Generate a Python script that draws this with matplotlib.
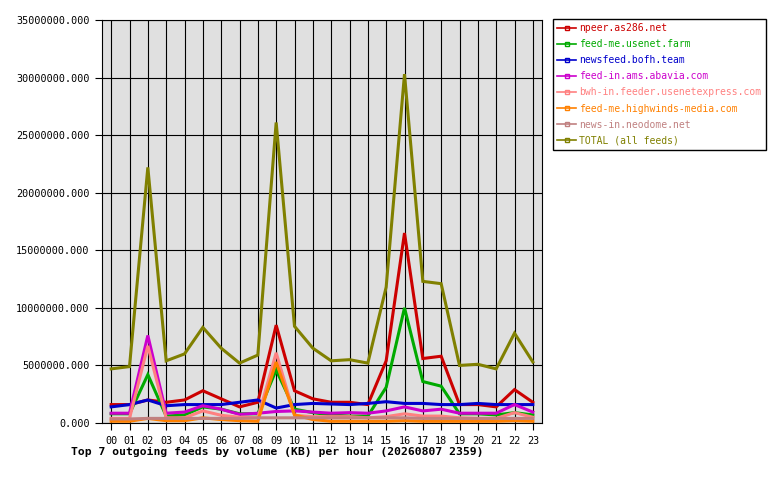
import matplotlib
matplotlib.use("Agg")
import matplotlib.pyplot as plt
from matplotlib.lines import Line2D
from matplotlib.ticker import FuncFormatter

# hours of the day
hours = ["%02d" % h for h in range(24)]

# KB per hour for each feed
npeer = [1.6e6, 1.6e6, 2.0e6, 1.8e6, 2.0e6, 2.8e6, 2.1e6, 1.4e6, 1.8e6, 8.5e6, 2.8e6, 2.1e6,
         1.8e6, 1.8e6, 1.6e6, 5.4e6, 16.5e6, 5.6e6, 5.8e6, 1.6e6, 1.6e6, 1.4e6, 2.9e6, 1.8e6]
usenet_farm = [0.8e6, 0.8e6, 4.2e6, 0.6e6, 0.7e6, 1.4e6, 1.2e6, 0.8e6, 0.8e6, 4.6e6, 1.2e6, 0.9e6,
               0.7e6, 0.6e6, 0.6e6, 3.1e6, 10.0e6, 3.6e6, 3.2e6, 0.8e6, 0.8e6, 0.7e6, 0.9e6, 0.7e6]
bofh = [1.4e6, 1.6e6, 2.0e6, 1.5e6, 1.6e6, 1.6e6, 1.6e6, 1.8e6, 2.0e6, 1.3e6, 1.6e6, 1.7e6,
        1.65e6, 1.6e6, 1.7e6, 1.85e6, 1.7e6, 1.7e6, 1.6e6, 1.6e6, 1.7e6, 1.6e6, 1.6e6, 1.6e6]
abavia = [0.85e6, 0.85e6, 7.6e6, 0.85e6, 0.95e6, 1.5e6, 1.2e6, 0.75e6, 0.85e6, 1.0e6, 1.05e6, 0.95e6,
          0.85e6, 0.9e6, 0.85e6, 1.05e6, 1.4e6, 1.05e6, 1.2e6, 0.85e6, 0.85e6, 0.85e6, 1.6e6, 0.95e6]
usenetexpress = [0.4e6, 0.4e6, 6.7e6, 0.45e6, 0.45e6, 1.05e6, 0.67e6, 0.5e6, 0.45e6, 6.1e6, 0.67e6, 0.55e6,
                 0.55e6, 0.55e6, 0.45e6, 0.55e6, 0.8e6, 0.6e6, 0.6e6, 0.45e6, 0.4e6, 0.4e6, 0.9e6, 0.5e6]
highwinds = [0.15e6, 0.15e6, 0.4e6, 0.2e6, 0.2e6, 0.45e6, 0.3e6, 0.2e6, 0.15e6, 5.3e6, 0.7e6, 0.3e6,
             0.15e6, 0.15e6, 0.15e6, 0.15e6, 0.2e6, 0.15e6, 0.15e6, 0.15e6, 0.15e6, 0.15e6, 0.2e6, 0.15e6]
neodome = [0.35e6, 0.35e6, 0.4e6, 0.4e6, 0.4e6, 0.4e6, 0.4e6, 0.4e6, 0.45e6, 0.45e6, 0.45e6, 0.45e6,
           0.45e6, 0.45e6, 0.45e6, 0.45e6, 0.45e6, 0.4e6, 0.4e6, 0.4e6, 0.4e6, 0.4e6, 0.4e6, 0.4e6]
total = [4.7e6, 4.9e6, 22.2e6, 5.4e6, 6.0e6, 8.3e6, 6.5e6, 5.2e6, 5.9e6, 26.1e6, 8.4e6, 6.5e6,
         5.4e6, 5.5e6, 5.2e6, 11.8e6, 30.3e6, 12.3e6, 12.1e6, 5.0e6, 5.1e6, 4.7e6, 7.8e6, 5.3e6]

feeds = ["npeer.as286.net", "feed-me.usenet.farm", "newsfeed.bofh.team", "feed-in.ams.abavia.com",
         "bwh-in.feeder.usenetexpress.com", "feed-me.highwinds-media.com", "news-in.neodome.net",
         "TOTAL (all feeds)"]
series = [npeer, usenet_farm, bofh, abavia, usenetexpress, highwinds, neodome, total]
colors = ["#cc0000", "#00aa00", "#0000cc", "#cc00cc", "#ff8080", "#ff8000", "#c08080", "#808000"]

mono = "DejaVu Sans Mono"

fig = plt.figure(figsize=(7.8, 4.8), dpi=100, facecolor="white")
ax = fig.add_axes([102 / 780, 1 - 423 / 480, 440 / 780, 403 / 480])
ax.set_facecolor("#e0e0e0")

x = list(range(len(hours)))
for vals, col in zip(series, colors):
    ax.plot(x, vals, color=col, linewidth=2.2, solid_joinstyle="miter", zorder=3)

ax.set_xlim(-0.5, 23.5)
ax.set_ylim(0, 35000000)
ax.set_xticks(x)
ax.set_xticklabels(hours, fontfamily=mono, fontsize=7.3)
ax.set_yticks(range(0, 35000001, 5000000))
ax.yaxis.set_major_formatter(FuncFormatter(lambda v, p: "%.3f" % v))
for lab in ax.get_yticklabels():
    lab.set_fontfamily(mono)
    lab.set_fontsize(7.3)
ax.tick_params(axis="both", direction="out", length=5, width=0.8, color="black", pad=4)
ax.grid(True, color="black", linewidth=0.8, zorder=1)
ax.set_axisbelow(True)
for sp in ax.spines.values():
    sp.set_color("black")
    sp.set_linewidth(0.8)

fig.text(71 / 780, 1 - 452 / 480, "Top 7 outgoing feeds by volume (KB) per hour (20260807 2359)",
         fontfamily=mono, fontweight="bold", fontsize=8.2, va="center", ha="left")

handles = [Line2D([0], [0], color=c, linewidth=1.2, marker="s", markersize=2.5,
                  markerfacecolor="none", markeredgecolor=c) for c in colors]
leg = fig.legend(handles, feeds, loc="upper left", bbox_to_anchor=(553 / 780, 1 - 19 / 480),
                 prop={"family": mono, "size": 7.0}, frameon=True, fancybox=False,
                 edgecolor="black", framealpha=1, handlelength=1.9, handletextpad=0.35,
                 labelspacing=0.62, borderpad=0.45, borderaxespad=0)
leg.get_frame().set_linewidth(1)
for txt, c in zip(leg.get_texts(), colors):
    txt.set_color(c)

fig.savefig("out.png", dpi=100, facecolor="white")
